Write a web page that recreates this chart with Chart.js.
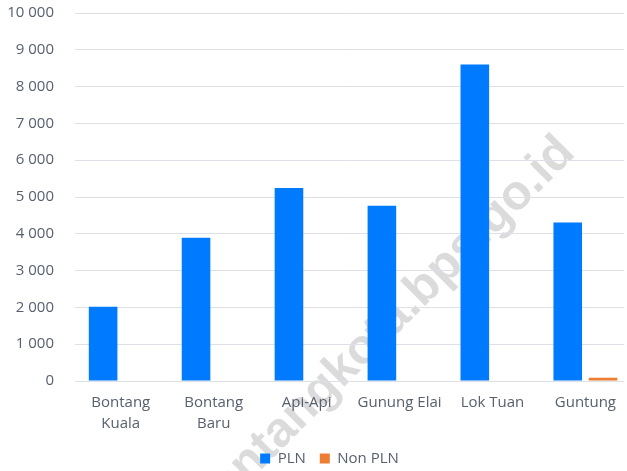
<!DOCTYPE html>
<html>
<head>
<meta charset="utf-8">
<script src="https://cdn.jsdelivr.net/npm/chart.js@4.4.1/dist/chart.umd.min.js"></script>
<style>
  html, body { margin: 0; padding: 0; background: #ffffff; }
  #wrap { width: 627px; height: 471px; position: relative; }
</style>
</head>
<body>
<div id="wrap"><canvas id="c" width="627" height="471"></canvas></div>
<script>
const categories = [["Bontang", "Kuala"], ["Bontang", "Baru"], "Api-Api", "Gunung Elai", "Lok Tuan", "Guntung"];
const plnValues = [2020, 3890, 5245, 4765, 8600, 4310];
const nonPlnValues = [0, 0, 0, 0, 0, 90];
const seriesNames = ["PLN", "Non PLN"];
const yMin = 0, yMax = 10000, yStep = 1000;
const watermarkText = "bontangkota.bps.go.id";

const textColor = "#58606f";
const gridColor = "#dde1e7";
const fontFamily = "'Open Sans', sans-serif";

const watermark = {
  id: "watermark",
  beforeDraw(chart) {
    const ctx = chart.ctx;
    ctx.save();
    ctx.fillStyle = "#ffffff";
    ctx.fillRect(0, 0, chart.width, chart.height);
    ctx.translate(418, 313);
    ctx.rotate(-45 * Math.PI / 180);
    ctx.font = "bold 49px 'Liberation Sans', Arial, sans-serif";
    ctx.fillStyle = "rgba(0,0,0,0.14)";
    ctx.textAlign = "left";
    ctx.textBaseline = "alphabetic";
    ctx.fillText(watermarkText, -6.14 * 49, 0);
    ctx.restore();
  }
};

// The source chart was cropped on the right, so its legend sits right of centre.
const legendShift = {
  id: "legendShift",
  afterLayout(chart) {
    const lg = chart.legend;
    if (lg) { lg.left += 16; lg.right += 16; }
  }
};

function fmt(v) {
  return String(v).replace(/\B(?=(\d{3})+(?!\d))/g, " ");
}

const toPoints = (arr) => arr.map((v, i) => ({ x: i, y: v }));

new Chart(document.getElementById("c"), {
  type: "bar",
  data: {
    datasets: [
      { label: seriesNames[0], data: toPoints(plnValues), backgroundColor: "#007bff", borderWidth: 0 },
      { label: seriesNames[1], data: toPoints(nonPlnValues), backgroundColor: "#ed7d31", borderWidth: 0 }
    ]
  },
  options: {
    responsive: false,
    animation: false,
    layout: { padding: { top: 13, right: 0, left: 0, bottom: -5 } },
    datasets: {
      bar: { categoryPercentage: 0.76, barPercentage: 0.81 }
    },
    plugins: {
      legend: {
        position: "bottom",
        labels: {
          boxWidth: 10, boxHeight: 10, padding: 14,
          color: textColor,
          font: { family: fontFamily, size: 15 }
        }
      },
      tooltip: { enabled: false }
    },
    scales: {
      x: {
        type: "linear",
        position: "bottom",
        offset: false,
        min: -0.4925, max: 5.4176,
        afterBuildTicks(scale) { scale.ticks = categories.map((_, i) => ({ value: i })); },
        afterFit(scale) { scale.height = 56; },
        grid: { display: false, drawTicks: false },
        border: { display: false },
        ticks: {
          color: textColor,
          padding: 11,
          maxRotation: 0,
          autoSkip: false,
          font: { family: fontFamily, size: 15, lineHeight: 1.4 },
          callback: (v) => categories[v]
        }
      },
      y: {
        min: yMin, max: yMax,
        afterFit(scale) { scale.width = 75; },
        grid: { color: gridColor, lineWidth: 1, drawTicks: true, tickLength: 19, tickColor: "rgba(0,0,0,0)" },
        border: { display: false },
        ticks: {
          stepSize: yStep,
          padding: 2,
          color: textColor,
          font: { family: fontFamily, size: 15 },
          callback: (v) => fmt(v)
        }
      }
    }
  },
  plugins: [watermark, legendShift]
});
</script>
</body>
</html>
